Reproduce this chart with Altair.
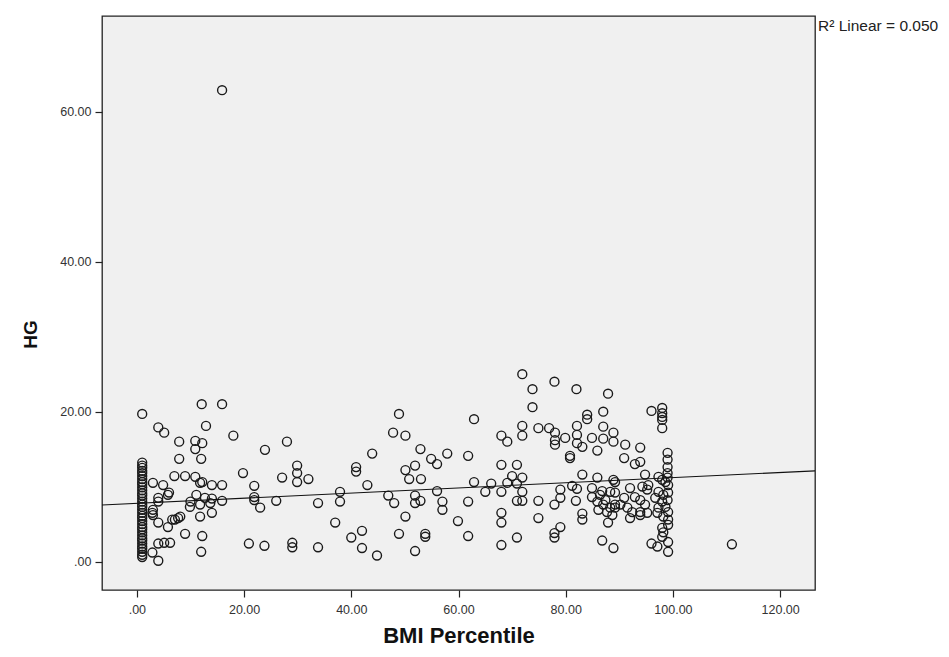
import altair as alt
import pandas as pd

# ---- data (BMI Percentile vs HG) ----
bmi_percentile = [
    # column at ~1
    1, 1, 1, 1, 1, 1, 1, 1, 1, 1, 1, 1, 1, 1, 1, 1, 1, 1,
    1, 1, 1, 1, 1, 1, 1, 1, 1, 1, 1, 1, 1, 1, 1, 1, 1, 1,
    # 2 - 25
    12.1, 15.9, 4.0, 5.1, 12.9, 7.9, 10.9, 12.2, 10.9, 18.0, 7.9, 12.0, 23.9, 19.8,
    7.0, 9.0, 10.9, 3.0, 4.9, 12.2, 14.0, 15.9, 21.9, 6.0, 4.0, 11.1, 12.7, 14.0,
    15.9, 21.9, 23.0, 9.9, 11.8, 2.9, 4.0, 5.8, 7.1, 8.1, 11.8, 14.0, 9.0, 12.2,
    4.0, 5.1, 6.2, 2.9, 4.0, 12.0, 20.9, 23.8,
    5.8, 4.0, 3.0, 6.6, 7.7, 13.7, 10.0, 11.8, 3.0,
    # 25 - 35
    28.0, 27.1, 29.9, 29.9, 29.9, 32.0, 21.9, 26.0, 33.8, 29.0, 29.0, 33.8,
    # 35 - 55
    48.9, 47.8, 50.1, 52.9, 43.9, 40.9, 40.9, 50.1, 51.9, 50.8, 53.0, 43.0, 37.9,
    37.9, 46.9, 48.0, 51.9, 51.9, 52.9, 50.1, 37.0, 42.0, 40.0, 48.9, 53.8, 53.8,
    42.0, 44.8, 51.9,
    # 55 - 75
    71.9, 73.8, 73.8, 62.9, 71.9, 68.0, 69.1, 71.9, 57.9, 54.9, 56.0, 61.8, 68.0,
    70.9, 70.0, 71.9, 62.9, 66.1, 69.1, 70.9, 56.0, 65.0, 68.0, 71.9, 57.0, 57.0,
    61.8, 70.9, 71.9, 59.9, 68.0, 68.0, 61.8, 70.9, 68.0,
    # 75 - 90
    77.9, 82.0, 87.9, 87.0, 84.0, 84.0, 82.1, 87.0, 74.9, 76.9, 78.0, 78.0, 78.0,
    79.9, 82.1, 82.1, 83.1, 84.9, 87.0, 88.9, 88.9, 85.9, 80.8, 80.8, 83.1, 85.9,
    88.9, 81.2, 82.1, 79.0, 84.9, 86.8, 88.3, 79.0, 74.9, 77.9, 81.9, 84.9, 85.9,
    87.0, 88.3, 87.7, 74.9, 83.1, 83.1, 87.9, 79.0, 77.9, 77.9, 86.8, 88.9, 86.4,
    87.4, 88.7, 89.2, 86.1,
    # 90 - 100
    96.0, 98.0, 98.0, 98.0, 98.0, 98.0, 91.1, 93.9, 90.9, 92.9, 93.9, 99.0, 99.0,
    99.0, 99.0, 99.0, 94.8, 89.2, 97.3, 98.0, 98.6, 99.1, 92.0, 94.3, 95.2, 95.4,
    89.2, 97.3, 98.2, 99.1, 90.9, 92.9, 93.9, 96.7, 98.0, 99.0, 89.2, 90.2, 91.5,
    92.4, 94.8, 93.9, 97.3, 98.6, 99.1, 92.0, 93.9, 95.2, 97.1, 98.2, 99.1, 99.1,
    98.0, 98.2, 98.0, 96.0, 97.1, 99.1, 99.1,
    # outliers
    15.9, 111.0,
]

hg = [
    0.6, 0.9, 1.3, 1.7, 2.0, 2.4, 2.8, 3.1, 3.5, 3.9, 4.3, 4.6, 5.0, 5.4, 5.8, 6.1, 6.5, 6.9,
    7.3, 7.6, 8.0, 8.4, 8.8, 9.1, 9.5, 9.9, 10.3, 10.6, 11.0, 11.4, 11.8, 12.1, 12.5, 12.8, 13.2, 19.7,
    21.0, 21.0, 17.9, 17.2, 18.1, 16.0, 16.1, 15.8, 15.0, 16.8, 13.7, 13.7, 14.9, 11.8,
    11.4, 11.4, 11.3, 10.5, 10.2, 10.6, 10.2, 10.2, 10.1, 9.2, 8.5, 8.9, 8.5, 8.4,
    8.1, 8.6, 7.2, 7.3, 7.6, 6.5, 5.2, 4.6, 5.6, 6.0, 6.0, 6.5, 3.7, 3.4,
    2.4, 2.5, 2.5, 1.2, 0.1, 1.3, 2.4, 2.1,
    8.9, 8.0, 6.2, 5.6, 5.8, 7.8, 8.0, 10.5, 6.9,
    16.0, 11.2, 12.8, 11.8, 10.6, 11.0, 8.2, 8.1, 7.8, 2.5, 1.9, 1.9,
    19.7, 17.2, 16.8, 15.0, 14.4, 12.6, 12.0, 12.2, 12.8, 11.0, 11.0, 10.2, 9.3,
    8.0, 8.8, 7.8, 8.8, 7.8, 8.1, 6.0, 5.2, 4.1, 3.2, 3.7, 3.7, 3.3,
    1.8, 0.8, 1.4,
    25.0, 23.0, 20.6, 19.0, 18.1, 16.8, 16.0, 16.8, 14.4, 13.7, 13.0, 14.1, 12.9,
    12.9, 11.4, 11.2, 10.6, 10.4, 10.5, 10.4, 9.4, 9.3, 9.3, 9.3, 8.0, 6.9,
    8.0, 8.1, 8.1, 5.4, 6.5, 5.2, 3.4, 3.2, 2.2,
    24.0, 23.0, 22.4, 20.0, 19.6, 19.0, 18.1, 18.0, 17.8, 17.8, 17.2, 16.2, 15.6,
    16.5, 16.9, 15.8, 15.3, 16.5, 16.4, 17.2, 16.0, 14.8, 14.1, 13.8, 11.6, 11.2,
    10.9, 10.1, 9.7, 9.6, 9.8, 9.4, 9.3, 8.5, 8.1, 7.6, 8.1, 8.6, 8.0,
    7.6, 7.2, 6.6, 5.8, 6.4, 5.6, 5.2, 4.6, 3.8, 3.2, 2.8, 1.8, 8.9,
    8.2, 6.2, 7.6, 6.9,
    20.1, 20.5, 19.8, 19.3, 18.9, 17.8, 15.6, 15.2, 13.8, 13.0, 13.3, 14.5, 13.6,
    12.6, 11.8, 11.2, 11.6, 10.6, 11.3, 10.9, 10.6, 10.2, 9.8, 10.0, 9.6, 10.2,
    9.2, 9.3, 8.9, 9.2, 8.5, 8.6, 8.2, 8.5, 8.0, 8.2, 7.2, 7.6, 7.2,
    6.6, 7.6, 6.6, 7.2, 7.3, 6.6, 5.8, 6.2, 6.5, 6.5, 6.0, 5.6, 4.9,
    4.5, 3.9, 3.3, 2.4, 2.0, 2.6, 1.3,
    62.9, 2.3,
]

# linear fit line as drawn in the reference (values at the two plot edges)
fit_bmi = [-6.5, 126.5]
fit_hg = [7.55, 12.1]

x_ticks = [0, 20, 40, 60, 80, 100, 120]
y_ticks = [0, 20, 40, 60]
x_domain = [-6.5, 126.5]
y_domain = [-3.8, 72.8]
r2_label = ["R\u00b2 Linear = 0.050"]

df = pd.DataFrame({"bmi": bmi_percentile, "hg": hg})
fit_df = pd.DataFrame({"bmi": fit_bmi, "hg": fit_hg})

W, H = 713, 574
FONT = "Liberation Sans"
label_expr = "datum.value == 0 ? '.00' : format(datum.value, '.2f')"

xs = alt.Scale(domain=x_domain, nice=False, zero=False)
ys = alt.Scale(domain=y_domain, nice=False, zero=False)

x_axis = alt.Axis(
    values=x_ticks, labelExpr=label_expr, title="BMI Percentile", grid=False,
    domain=False, ticks=True, tickSize=7, tickColor="#222", tickWidth=1.2,
    labelFont=FONT, labelFontSize=12.5, labelColor="#333", labelPadding=6,
    titleFont=FONT, titleFontSize=22, titleFontWeight="bold", titleColor="#111",
    titleBaseline="bottom", titleY=57,
)
y_axis = alt.Axis(
    values=y_ticks, labelExpr=label_expr, title="HG", grid=False,
    domain=False, ticks=True, tickSize=7, tickColor="#222", tickWidth=1.2,
    labelFont=FONT, labelFontSize=12.5, labelColor="#333", labelPadding=4,
    titleFont=FONT, titleFontSize=19, titleFontWeight="bold", titleColor="#111",
    titleX=-72, titleY=318, titleBaseline="middle", titleAngle=-90,
)

points = alt.Chart(df).mark_point(
    shape="circle", filled=False, size=80, strokeWidth=1.4, color="#1a1a1a", opacity=1
).encode(
    x=alt.X("bmi:Q", scale=xs, axis=x_axis),
    y=alt.Y("hg:Q", scale=ys, axis=y_axis),
)

fit = alt.Chart(fit_df).mark_line(color="#111", strokeWidth=1.1).encode(
    x=alt.X("bmi:Q", scale=xs),
    y=alt.Y("hg:Q", scale=ys),
)

r2 = alt.Chart(pd.DataFrame({"t": r2_label})).mark_text(
    align="left", baseline="middle", font=FONT, fontSize=15.5, color="#222"
).encode(x=alt.value(W + 3), y=alt.value(10), text="t:N")

chart = alt.layer(points, fit, r2).properties(
    width=W, height=H,
    autosize=alt.AutoSizeParams(type="none"),
    padding={"left": 94, "top": 8, "right": 126, "bottom": 59},
    background="white",
).configure_view(fill="#f0f0f0", stroke="#222", strokeWidth=1.3)

chart.save("out.html", embed_options={"renderer": "svg", "actions": False})
